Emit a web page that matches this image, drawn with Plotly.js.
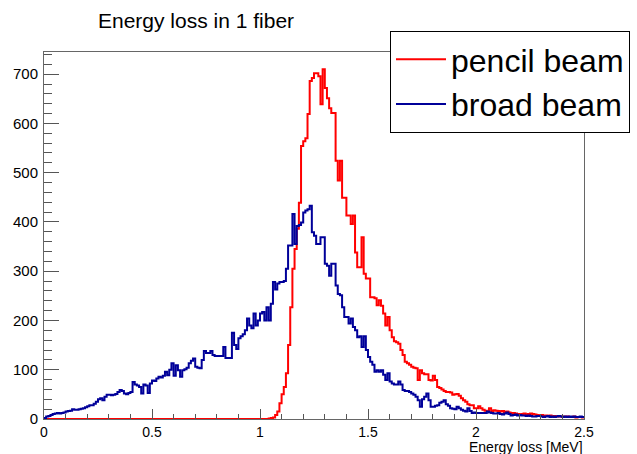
<!DOCTYPE html>
<html>
<head>
<meta charset="utf-8">
<script src="https://cdn.plot.ly/plotly-3.0.1.min.js"></script>
<style>html,body{margin:0;padding:0;background:#fff;}#chart{width:637px;height:454px;}</style>
</head>
<body>
<div id="chart"></div>
<script>
// Histogram definition: 250 bins from 0 to 2.5 MeV
const xMin = 0.0;
const binWidth = 0.01;

// pencil beam counts per bin (bins 0..249)
const pencilBeam = [
  0,0,0,0,0,0,0,0,0,0, 0,0,0,0,0,0,0,0,0,0,
  0,0,0,0,0,0,0,0,0,0, 0,0,0,0,0,0,0,0,0,0,
  0,0,0,0,0,0,0,0,0,0, 0,0,0,0,0,0,0,0,0,0,
  0,0,0,0,0,0,0,0,0,0, 0,0,0,0,0,0,0,0,0,0,
  0,0,0,0,0,0,0,0,0,0, 0,0,0,0,0,0,0,0,0,0,
  0,0,0,0,1,2,3,8,15,32, 50,65,93,150,227,305,345,386,439,554,
  564,570,619,686,692,702,702,696,639,710, 672,651,631,621,621,524,484,524,449,449,
  413,413,396,413,338,308,308,369,295,285, 285,247,247,245,231,241,230,214,190,207,
  180,166,158,156,153,140,130,116,113,110, 106,104,103,79,99,93,91,91,79,78,
  88,79,65,63,60,57,55,55,54,49, 50,51,47,42,38,35,30,28,28,22,
  22,26,22,19,17,15,22,16,18,17, 16,15,16,14,15,13,12,12,11,10,
  9,10,11,9,10,11,10,9,8,7, 8,7,7,6,7,5,6,5,6,5,
  4,5,5,4,4,5,3,4,4,3
];

// broad beam counts per bin (bins 0..249)
const broadBeam = [
  2,5,6,8,10,11,12,11,12,13, 15,16,17,20,19,19,20,21,22,24,
  26,28,28,31,35,40,42,38,45,49, 49,48,49,51,55,59,57,52,50,53,
  55,75,70,68,65,52,70,68,53,72, 78,77,82,86,84,88,96,89,100,113,
  88,109,99,86,99,101,104,113,118,123, 106,104,103,120,138,134,134,138,130,128,
  128,128,128,146,124,124,124,175,150,142, 164,168,172,180,204,190,184,214,190,200,
  214,217,200,227,200,234,278,263,275,278, 278,280,305,352,352,416,355,392,394,399,
  419,423,426,433,379,372,355,355,369,369, 315,311,291,315,315,271,254,251,227,207,
  207,194,204,187,180,166,168,146,168,140, 126,116,110,96,99,96,99,90,79,93,
  76,72,70,70,76,70,59,57,57,55, 52,49,45,38,25,40,45,52,38,25,
  25,27,28,33,35,38,30,27,22,21, 20,25,22,19,17,15,22,16,12,13,
  12,12,12,12,12,15,13,12,11,11, 12,10,9,11,13,10,7,8,9,7,
  8,7,7,6,7,6,5,5,6,6, 5,4,5,6,4,5,4,5,6,5,
  4,5,4,5,4,5,4,4,5,4
];

const seriesNames = ["pencil beam", "broad beam"];
const titleText = "Energy loss in 1 fiber";
const xTitleText = "Energy loss [MeV]";

function stepXY(counts) {
  const xs = [], ys = [];
  for (let i = 0; i < counts.length; i++) {
    xs.push(xMin + i * binWidth);
    ys.push(counts[i]);
  }
  xs.push(xMin + counts.length * binWidth);
  ys.push(counts[counts.length - 1]);
  return {xs, ys};
}

const p = stepXY(pencilBeam);
const b = stepXY(broadBeam);

const traces = [
  {x: p.xs, y: p.ys, name: seriesNames[0], type: 'scatter', mode: 'lines',
   line: {shape: 'hv', color: '#ff0000', width: 2}},
  {x: b.xs, y: b.ys, name: seriesNames[1], type: 'scatter', mode: 'lines',
   line: {shape: 'hv', color: '#000099', width: 2}}
];

const yFont = {family: 'Liberation Sans, Arial, sans-serif', size: 15, color: '#000'};
const xFont = {family: 'Liberation Sans, Arial, sans-serif', size: 14, color: '#000'};

const layout = {
  width: 637, height: 454,
  margin: {l: 44, r: 53, t: 52, b: 35, pad: 0, autoexpand: false},
  paper_bgcolor: '#fff', plot_bgcolor: '#fff',
  font: {family: 'Liberation Sans, Arial, sans-serif', color: '#000'},
  title: {text: titleText, xref: 'container', yref: 'container', x: 98/637, xanchor: 'left',
          y: 1 - 21/454, yanchor: 'middle', font: {size: 21, color: '#000'}},
  xaxis: {range: [0, 2.5], tickvals: [0, 0.5, 1, 1.5, 2, 2.5], ticktext: ['0','0.5','1','1.5','2','2.5'],
          ticks: 'inside', ticklen: 10, tickwidth: 1, tickcolor: '#555',
          minor: {dtick: 0.1, ticks: 'inside', ticklen: 5, tickcolor: '#555', showgrid: false},
          showline: true, linecolor: '#666', linewidth: 1, mirror: true,
          showgrid: false, zeroline: false, tickfont: xFont, ticklabelstandoff: 0},
  yaxis: {range: [0, 745], dtick: 100, tick0: 0,
          ticks: 'inside', ticklen: 15, tickwidth: 1, tickcolor: '#555',
          minor: {dtick: 20, ticks: 'inside', ticklen: 8, tickcolor: '#555', showgrid: false},
          showline: true, linecolor: '#666', linewidth: 1, mirror: true,
          showgrid: false, zeroline: false, tickfont: yFont, ticklabelstandoff: 2},
  legend: {xref: 'container', yref: 'container', x: 390/637, y: 1 - 31/454, xanchor: 'left', yanchor: 'top',
           bgcolor: '#fff', bordercolor: '#000', borderwidth: 1,
           font: {size: 32, color: '#000'}, tracegroupgap: 0, itemwidth: 50},
  showlegend: true,
  annotations: [
    {text: xTitleText, xref: 'paper', yref: 'paper', x: 1, y: 0, xanchor: 'right', yanchor: 'top',
     yshift: -18.5, borderpad: 0, showarrow: false, font: {size: 14, color: '#000'}}
  ]
};

Plotly.newPlot('chart', traces, layout, {displayModeBar: false, staticPlot: true});
</script>
</body>
</html>
